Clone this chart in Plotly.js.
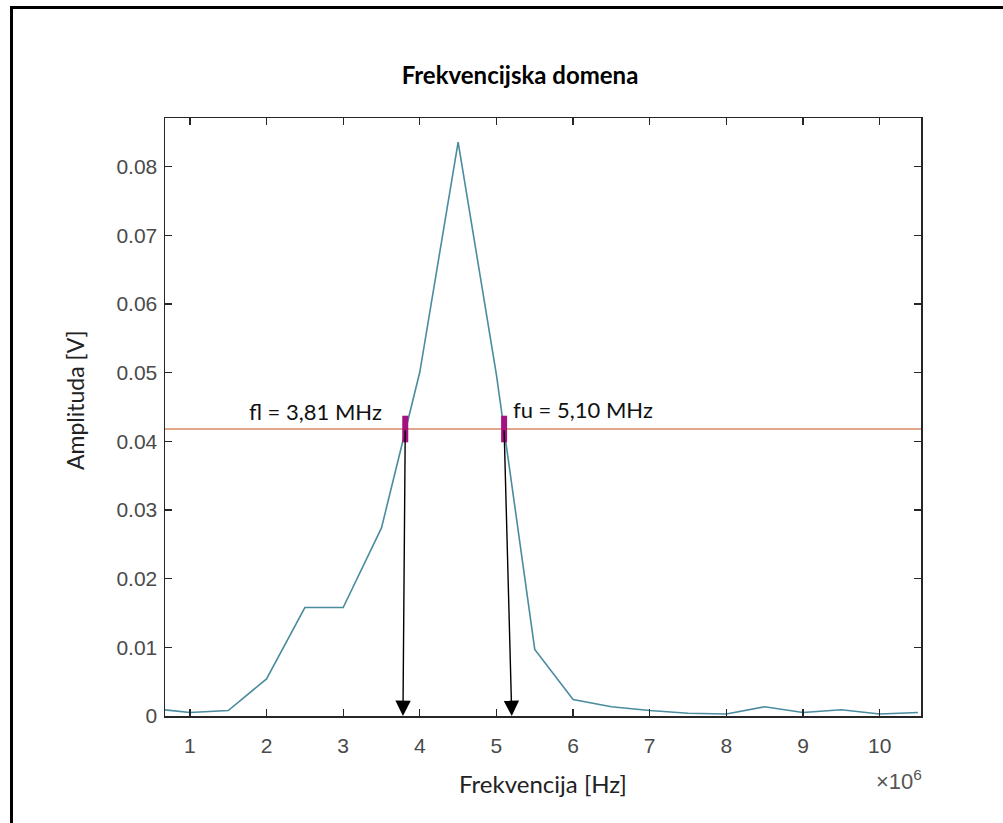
<!DOCTYPE html>
<html>
<head>
<meta charset="utf-8">
<script src="https://cdn.plot.ly/plotly-3.0.1.min.js"></script>
<style>
html,body{margin:0;padding:0;background:#fff;overflow:hidden;}
#wrap{position:relative;width:1003px;height:823px;}
#chart{width:1003px;height:823px;}
#frame{position:absolute;left:10px;top:6px;width:1100px;height:900px;border-left:3px solid #000;border-top:3px solid #000;pointer-events:none;}
</style>
</head>
<body>
<div id="wrap">
<div id="chart"></div>
<div id="frame"></div>
</div>
<script>
// Spectrum (frequency in Hz, amplitude in V)
const freq = [0.5e6, 1.0e6, 1.5e6, 2.0e6, 2.5e6, 3.0e6, 3.5e6, 4.0e6, 4.5e6, 5.0e6, 5.5e6,
              6.0e6, 6.5e6, 7.0e6, 7.5e6, 8.0e6, 8.5e6, 9.0e6, 9.5e6, 10.0e6, 10.5e6];
const amp  = [0.0011, 0.0005, 0.0008, 0.0054, 0.0158, 0.0158, 0.0274, 0.0501, 0.0836, 0.0497, 0.0097,
              0.0024, 0.00135, 0.0008, 0.0004, 0.0003, 0.00135, 0.0005, 0.0009, 0.0003, 0.0005];

// -3 dB level and band edges
const halfLevel = 0.0418;
const edgeFreq = [3.81e6, 5.10e6];
const edgeAmp = [0.0418, 0.0418];
const edgeLabels = ["fl = 3,81 MHz", "fu = 5,10 MHz"];
const arrowTipFreq = [3.78e6, 5.20e6];

// Axis ticks
const xTickVals = [1e6, 2e6, 3e6, 4e6, 5e6, 6e6, 7e6, 8e6, 9e6, 10e6];
const xTickText = ["1", "2", "3", "4", "5", "6", "7", "8", "9", "10"];
const yTickVals = [0, 0.01, 0.02, 0.03, 0.04, 0.05, 0.06, 0.07, 0.08];
const yTickText = ["0", "0.01", "0.02", "0.03", "0.04", "0.05", "0.06", "0.07", "0.08"];

const xRange = [0.675e6, 10.54e6];
const yRange = [0, 0.0871];

const tickFont = {family: 'Liberation Sans, Arial, sans-serif', size: 21, color: '#4a4a4a'};
const labelFont = {family: 'Lato, sans-serif', size: 24, color: '#222'};

const traces = [
  {
    x: freq, y: amp, type: 'scatter', mode: 'lines',
    line: {color: '#4a8c9e', width: 1.6},
    hoverinfo: 'skip', showlegend: false
  },
  {
    x: xRange, y: [halfLevel, halfLevel], type: 'scatter', mode: 'lines',
    line: {color: '#d68a64', width: 1.4},
    hoverinfo: 'skip', showlegend: false
  },
  {
    x: edgeFreq, y: edgeAmp, type: 'scatter', mode: 'markers',
    marker: {symbol: 'line-ns-open', size: 19, color: '#a3137f', line: {color: '#a3137f', width: 6}},
    hoverinfo: 'skip', showlegend: false, cliponaxis: false
  }
];

const annotations = [
  {
    x: arrowTipFreq[0], y: 0, ax: edgeFreq[0], ay: edgeAmp[0],
    xref: 'x', yref: 'y', axref: 'x', ayref: 'y',
    showarrow: true, arrowhead: 2, arrowsize: 2.2, arrowwidth: 1.4, arrowcolor: '#000',
    standoff: 0, startstandoff: 0, text: ''
  },
  {
    x: arrowTipFreq[1], y: 0, ax: edgeFreq[1], ay: edgeAmp[1],
    xref: 'x', yref: 'y', axref: 'x', ayref: 'y',
    showarrow: true, arrowhead: 2, arrowsize: 2.2, arrowwidth: 1.4, arrowcolor: '#000',
    standoff: 0, startstandoff: 0, text: ''
  },
  {
    x: edgeFreq[0], y: edgeAmp[0], xref: 'x', yref: 'y',
    text: edgeLabels[0], showarrow: false,
    xanchor: 'right', yanchor: 'middle', xshift: -21, yshift: 18,
    font: {family: 'Lato, sans-serif', size: 22, color: '#111'}
  },
  {
    x: edgeFreq[1], y: edgeAmp[1], xref: 'x', yref: 'y',
    text: edgeLabels[1], showarrow: false,
    xanchor: 'left', yanchor: 'middle', xshift: 7, yshift: 20,
    font: {family: 'Lato, sans-serif', size: 22, color: '#111'}
  },
  {
    x: 1, y: 0, xref: 'paper', yref: 'paper',
    text: '\u00d710<sup>6</sup>', showarrow: false,
    xanchor: 'right', yanchor: 'middle', xshift: 3, yshift: -64,
    font: {family: 'Liberation Sans, Arial, sans-serif', size: 22, color: '#555'}
  },
  {
    x: 0, y: 0.5, xref: 'paper', yref: 'paper',
    text: 'Amplituda [V]', showarrow: false, textangle: -90,
    xanchor: 'center', yanchor: 'middle', xshift: -90, yshift: 17,
    font: {family: 'Lato, sans-serif', size: 23, color: '#222'}
  }
];

const layout = {
  width: 1003, height: 823,
  margin: {l: 165, r: 82, t: 118, b: 107},
  paper_bgcolor: '#fff', plot_bgcolor: '#fff',
  title: {
    text: '<b>Frekvencijska domena</b>',
    x: (520 - 165) / 756, xref: 'paper', xanchor: 'center',
    y: 1 - 76 / 823, yref: 'container', yanchor: 'middle',
    font: {family: 'Lato, sans-serif', size: 24, color: '#000'}
  },
  xaxis: {
    range: xRange, tickvals: xTickVals, ticktext: xTickText,
    ticks: 'inside', ticklen: 7, tickwidth: 1.3, tickcolor: '#262626',
    showline: true, linecolor: '#262626', linewidth: 1.5, mirror: 'ticks',
    showgrid: false, zeroline: false, ticklabelstandoff: 10,
    tickfont: tickFont,
    title: {text: 'Frekvencija [Hz]', standoff: 20, font: labelFont}
  },
  yaxis: {
    range: yRange, tickvals: yTickVals, ticktext: yTickText,
    ticks: 'inside', ticklen: 7, tickwidth: 1.3, tickcolor: '#262626',
    showline: true, linecolor: '#262626', linewidth: 1.5, mirror: 'ticks',
    showgrid: false, zeroline: false, ticklabelstandoff: 2,
    tickfont: tickFont
  },
  annotations: annotations,
  showlegend: false
};

Plotly.newPlot('chart', traces, layout, {staticPlot: true, displayModeBar: false});
</script>
</body>
</html>
